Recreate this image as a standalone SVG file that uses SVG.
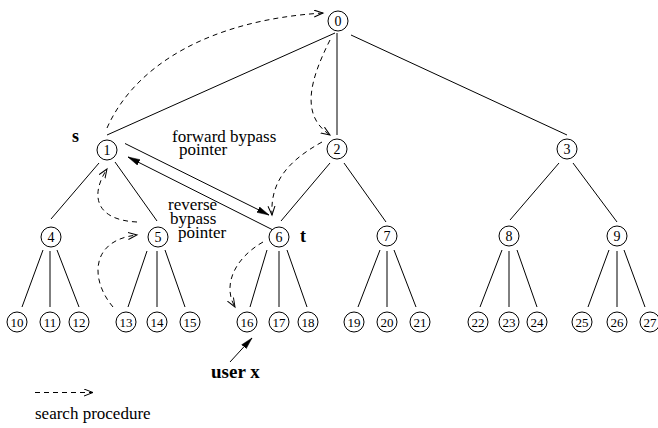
<svg xmlns="http://www.w3.org/2000/svg" width="658" height="428" viewBox="0 0 658 428">
<style>
.n circle{fill:#fff;stroke:#000;stroke-width:1}
.n text{font-family:"Liberation Serif","Times New Roman",serif;font-size:13px;text-anchor:middle;fill:#000}
.n text.s{font-size:14px}
.e{stroke:#000;stroke-width:1;fill:none}
.d{stroke:#000;stroke-width:1;fill:none;stroke-dasharray:5 4}
.lbl{font-family:"Liberation Serif","Times New Roman",serif;font-size:17px;fill:#000}
.b{font-family:"Liberation Serif","Times New Roman",serif;font-weight:bold;fill:#000}
</style>
<defs>
<marker id="open" markerUnits="userSpaceOnUse" markerWidth="12" markerHeight="10" refX="9" refY="4" orient="auto">
<path d="M0,0.5 L9,4 L0,7.5" fill="none" stroke="#000" stroke-width="1"/>
</marker>
<marker id="fill" markerUnits="userSpaceOnUse" markerWidth="14" markerHeight="8" refX="12" refY="3.5" orient="auto">
<path d="M0,0.5 L12,3.5 L0,6.5 z" fill="#000" stroke="#000" stroke-width="0.5"/>
</marker>
</defs>
<rect width="658" height="428" fill="#fff"/>
<g id="connectors">
<line class="e" x1="335" y1="33" x2="107" y2="135"/>
<line class="e" x1="337" y1="33" x2="337" y2="135"/>
<line class="e" x1="351" y1="35" x2="567" y2="135"/>
<line class="e" x1="99" y1="163" x2="51" y2="219"/>
<line class="e" x1="115" y1="162" x2="157" y2="221"/>
<line class="e" x1="330" y1="163" x2="281" y2="221"/>
<line class="e" x1="344" y1="163" x2="386" y2="222"/>
<line class="e" x1="559" y1="163" x2="510" y2="220"/>
<line class="e" x1="573" y1="163" x2="617" y2="222"/>
<line class="e" x1="43" y1="250" x2="22" y2="307"/>
<line class="e" x1="50" y1="251" x2="50" y2="307"/>
<line class="e" x1="57" y1="250" x2="79" y2="307"/>
<line class="e" x1="147" y1="251" x2="128" y2="307"/>
<line class="e" x1="157" y1="251" x2="157" y2="307"/>
<line class="e" x1="165" y1="250" x2="185" y2="307"/>
<line class="e" x1="267" y1="250" x2="250" y2="307"/>
<line class="e" x1="279" y1="251" x2="279" y2="307"/>
<line class="e" x1="287" y1="250" x2="307" y2="307"/>
<line class="e" x1="380" y1="250" x2="358" y2="307"/>
<line class="e" x1="387" y1="251" x2="387" y2="307"/>
<line class="e" x1="394" y1="250" x2="416" y2="307"/>
<line class="e" x1="502" y1="250" x2="480" y2="307"/>
<line class="e" x1="509" y1="251" x2="509" y2="307"/>
<line class="e" x1="517" y1="250" x2="537" y2="307"/>
<line class="e" x1="609" y1="250" x2="588" y2="307"/>
<line class="e" x1="617" y1="251" x2="617" y2="307"/>
<line class="e" x1="624" y1="250" x2="645" y2="307"/>
<line class="e" x1="125" y1="143.5" x2="269" y2="215" marker-end="url(#fill)"/>
<line class="e" x1="275" y1="231" x2="128" y2="157" marker-end="url(#fill)"/>
<line class="e" x1="230" y1="362" x2="252" y2="338" marker-end="url(#fill)"/>
<path class="d" d="M107,128 C135,65 210,20 323,13" marker-end="url(#open)"/>
<path class="d" d="M330,40 C310,80 300,115 330,135" marker-end="url(#open)"/>
<path class="d" d="M322,142 C290,160 270,180 272,215" marker-end="url(#open)"/>
<path class="d" d="M263,242 C235,258 222,285 235,307" marker-end="url(#open)"/>
<path class="d" d="M113,307 C90,280 90,240 137,235" marker-end="url(#open)"/>
<path class="d" d="M137,222 C95,220 90,195 107,169" marker-end="url(#open)"/>
<path class="d" d="M35,392.5 L93,392.5" marker-end="url(#open)"/>
</g>
<g id="n0" class="n"><circle cx="338" cy="21" r="10"/><text class="s" x="338" y="26">0</text></g>
<g id="n1" class="n"><circle cx="107" cy="150" r="10"/><text class="s" x="107" y="155">1</text></g>
<g id="n2" class="n"><circle cx="337" cy="149" r="10"/><text class="s" x="337" y="154">2</text></g>
<g id="n3" class="n"><circle cx="567" cy="149" r="10"/><text class="s" x="567" y="154">3</text></g>
<g id="n4" class="n"><circle cx="51" cy="237" r="10"/><text class="s" x="51" y="242">4</text></g>
<g id="n5" class="n"><circle cx="158" cy="237" r="10"/><text class="s" x="158" y="242">5</text></g>
<g id="n6" class="n"><circle cx="279" cy="237" r="10"/><text class="s" x="279" y="242">6</text></g>
<g id="n7" class="n"><circle cx="387" cy="236" r="10"/><text class="s" x="387" y="241">7</text></g>
<g id="n8" class="n"><circle cx="509" cy="236" r="10"/><text class="s" x="509" y="241">8</text></g>
<g id="n9" class="n"><circle cx="617" cy="236" r="10"/><text class="s" x="617" y="241">9</text></g>
<g id="n10" class="n"><circle cx="17" cy="322" r="10"/><text x="17" y="326.5">10</text></g>
<g id="n11" class="n"><circle cx="50" cy="322" r="10"/><text x="50" y="326.5">11</text></g>
<g id="n12" class="n"><circle cx="79" cy="322" r="10"/><text x="79" y="326.5">12</text></g>
<g id="n13" class="n"><circle cx="126" cy="322" r="10"/><text x="126" y="326.5">13</text></g>
<g id="n14" class="n"><circle cx="157" cy="322" r="10"/><text x="157" y="326.5">14</text></g>
<g id="n15" class="n"><circle cx="190" cy="322" r="10"/><text x="190" y="326.5">15</text></g>
<g id="n16" class="n"><circle cx="247" cy="322" r="10"/><text x="247" y="326.5">16</text></g>
<g id="n17" class="n"><circle cx="279" cy="322" r="10"/><text x="279" y="326.5">17</text></g>
<g id="n18" class="n"><circle cx="308" cy="322" r="10"/><text x="308" y="326.5">18</text></g>
<g id="n19" class="n"><circle cx="354" cy="322" r="10"/><text x="354" y="326.5">19</text></g>
<g id="n20" class="n"><circle cx="387" cy="322" r="10"/><text x="387" y="326.5">20</text></g>
<g id="n21" class="n"><circle cx="420" cy="322" r="10"/><text x="420" y="326.5">21</text></g>
<g id="n22" class="n"><circle cx="478" cy="322" r="10"/><text x="478" y="326.5">22</text></g>
<g id="n23" class="n"><circle cx="509" cy="322" r="10"/><text x="509" y="326.5">23</text></g>
<g id="n24" class="n"><circle cx="537" cy="322" r="10"/><text x="537" y="326.5">24</text></g>
<g id="n25" class="n"><circle cx="582" cy="322" r="10"/><text x="582" y="326.5">25</text></g>
<g id="n26" class="n"><circle cx="617" cy="322" r="10"/><text x="617" y="326.5">26</text></g>
<g id="n27" class="n"><circle cx="650" cy="322" r="10"/><text x="650" y="326.5">27</text></g>
<g id="labels">
<text class="b" x="72" y="142" font-size="18">s</text>
<text class="b" x="300" y="242" font-size="18">t</text>
<text class="b" x="211" y="378" font-size="19">user x</text>
<text class="lbl" x="172" y="142">forward bypass</text>
<text class="lbl" x="179" y="155">pointer</text>
<text class="lbl" x="168" y="210">reverse</text>
<text class="lbl" x="170" y="224">bypass</text>
<text class="lbl" x="178" y="238">pointer</text>
<text class="lbl" x="35" y="419">search procedure</text>
</g>
</svg>
